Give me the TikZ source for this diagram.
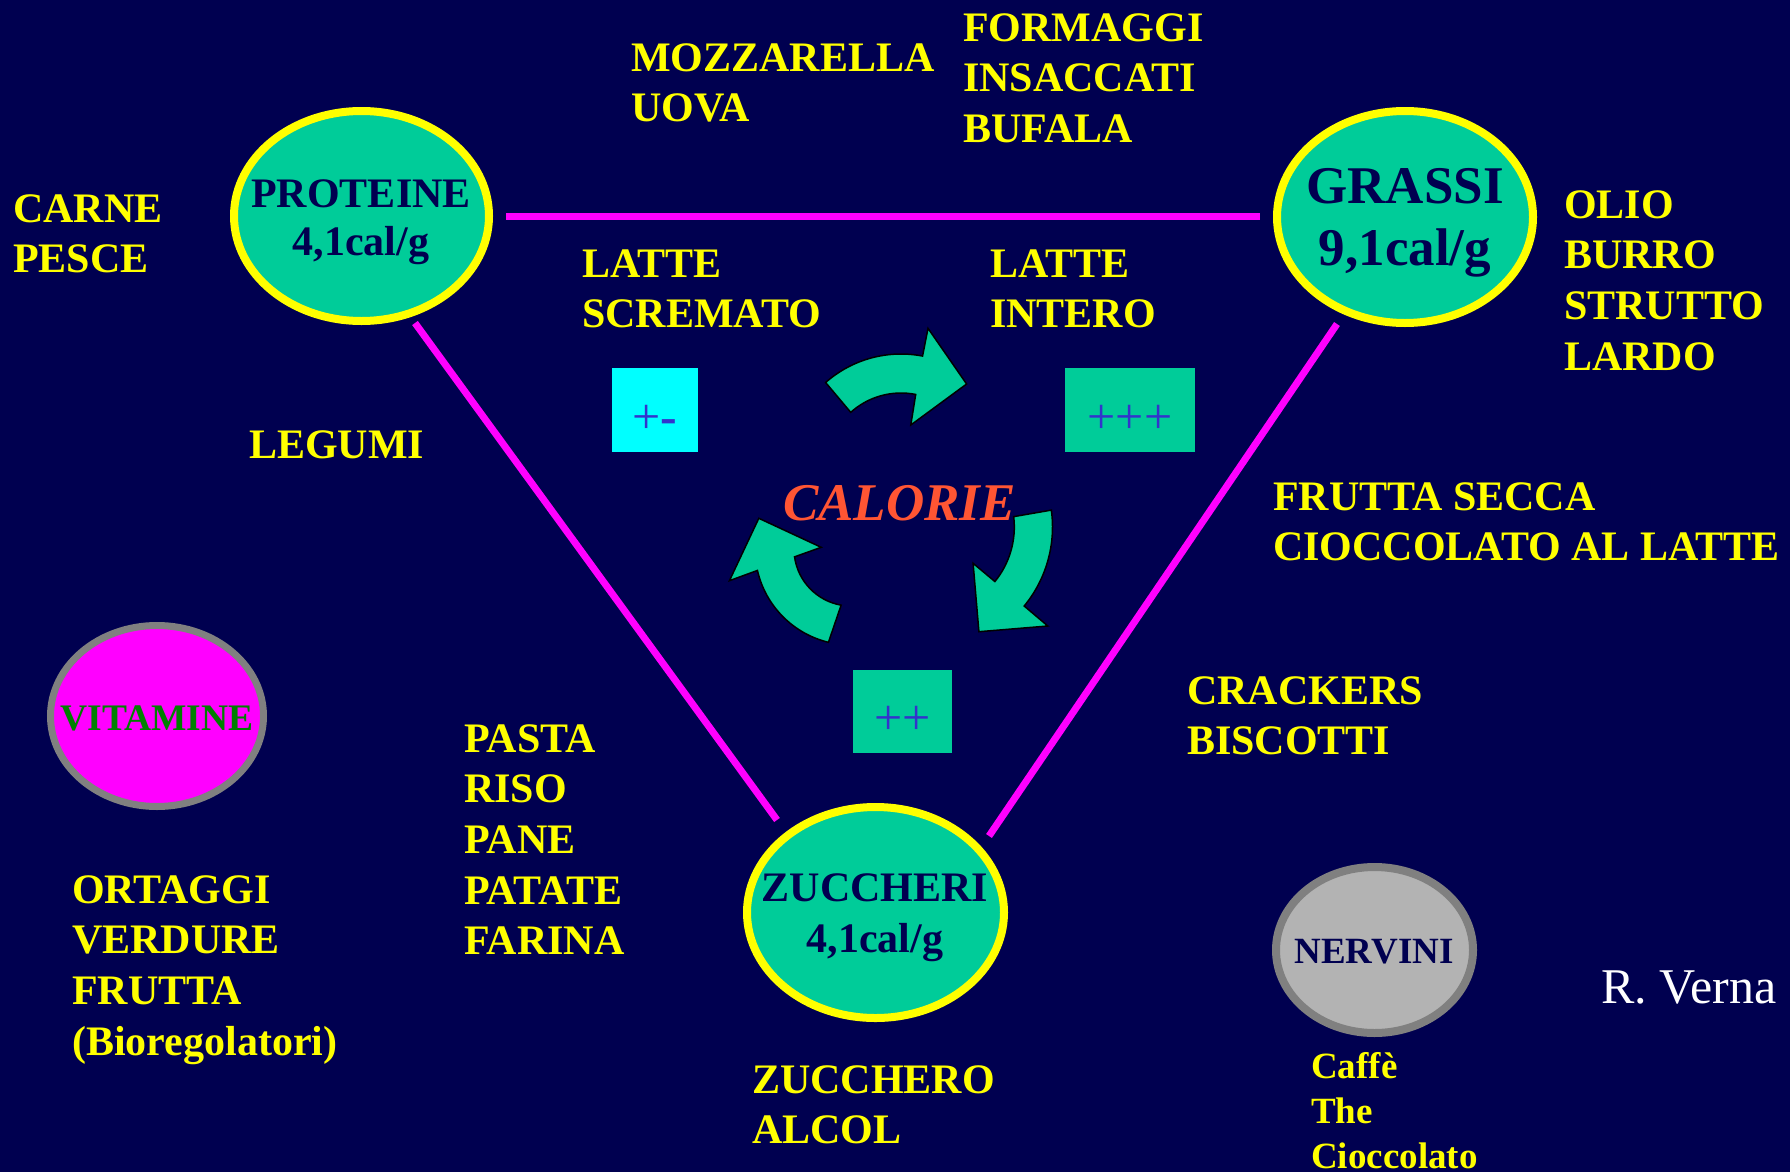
\documentclass[tikz,border=0pt]{standalone}
\usepackage{fontspec}
\setmainfont{Liberation Serif}
\usetikzlibrary{shapes.geometric}
\definecolor{bgc}{HTML}{000050}
\definecolor{tealc}{HTML}{00CC99}
\definecolor{magc}{HTML}{FF00FF}
\definecolor{yelc}{HTML}{FFFF00}
\definecolor{ringgray}{HTML}{808080}
\definecolor{nervfill}{HTML}{B3B3B3}
\definecolor{calc}{HTML}{FF5533}
\definecolor{plusc}{HTML}{3333CC}
\definecolor{vitgreen}{HTML}{008000}
\definecolor{cyanc}{HTML}{00FFFF}
\begin{document}
\begin{tikzpicture}[x=1pt,y=-1pt,
  yell/.style={font=\fontsize{42}{50.7}\selectfont\bfseries, text=yelc, align=left, inner sep=0pt, anchor=base west},
  bubble/.style={ellipse, draw=yelc, line width=8pt, fill=tealc, inner sep=0pt},
  bubtext/.style={font=\fontsize{42}{48}\selectfont\bfseries, text=bgc, align=center, inner sep=0pt, anchor=base},
  link/.style={draw=magc, line width=7pt},
  pbox/.style={inner sep=0pt},
  plustext/.style={inner sep=0pt, font=\fontsize{50}{50}\selectfont, text=plusc, yshift=-9pt},
  cyc/.style={fill=tealc, draw=black, line width=1.5pt, line join=miter}
]
\fill[bgc] (0,0) rectangle (1790,1172);
\useasboundingbox (0,0) rectangle (1790,1172);

% magenta links
\coordinate (l1a) at (506,216); \coordinate (l1b) at (1260,216);
\coordinate (l2a) at (415,323); \coordinate (l2b) at (777,820);
\coordinate (l3a) at (1337,324); \coordinate (l3b) at (989,836);
\draw[link] (l1a) -- (l1b);
\draw[link] (l2a) -- (l2b);
\draw[link] (l3a) -- (l3b);

% ellipses
\node[bubble, minimum width=255pt, minimum height=210pt] (prot) at (361.5,216) {};
\node[bubble, minimum width=256pt, minimum height=212pt] (grassi) at (1405,217) {};
\node[bubble, minimum width=257pt, minimum height=211pt] (zucch) at (875.5,912.5) {};
\node[ellipse, draw=ringgray, line width=7pt, fill=magc, minimum width=213pt, minimum height=181pt] (vit) at (157,716) {};
\node[ellipse, draw=ringgray, line width=8pt, fill=nervfill, minimum width=197pt, minimum height=166pt] (nerv) at (1374.5,950) {};

% (multi-line nodes: base anchor = last line's baseline)
\node[bubtext] (protT) at (361,255) {PROTEINE\\4,1cal/g};
\node[bubtext, font=\fontsize{53}{62}\selectfont\bfseries] (grT) at (1405,265) {GRASSI\\9,1cal/g};
\node[bubtext, font=\fontsize{42}{51}\selectfont\bfseries] (zuT) at (875,952) {ZUCCHERI\\4,1cal/g};
\node[font=\fontsize{37.5}{40}\selectfont\bfseries, text=vitgreen, inner sep=0pt, anchor=base] (vitT) at (157,730) {VITAMINE};
\node[font=\fontsize{37}{40}\selectfont\bfseries, text=bgc, inner sep=0pt, anchor=base] (nervT) at (1374,963) {NERVINI};

% boxes
\node[pbox, fill=cyanc, minimum width=86.5pt, minimum height=84pt,
      label={[plustext]center:+\textbf{-}}] (pm) at (655,410) {};
\node[pbox, fill=tealc, minimum width=130pt, minimum height=84pt,
      label={[plustext]center:+++}] (ppp) at (1130,410) {};
\node[pbox, fill=tealc, minimum width=99pt, minimum height=83pt,
      label={[plustext]center:++}] (pp) at (902.5,711.5) {};

% cycle arrows (circular bands)
\draw[cyc] ([shift={(901,468)}]-131.4:114) arc[start angle=-131.4, end angle=-79.1, radius=114]
  -- (928,328.3) -- (966.6,384) -- (910.8,425)
  -- ([shift={(901,468)}]-78.7:75) arc[start angle=-78.7, end angle=-132.1, radius=75] -- cycle;
\draw[cyc] ([shift={(928,527)}]-7.8:124.5) arc[start angle=-7.8, end angle=39.4, radius=124.5]
  -- (1047.8,626) -- (978.9,631.7) -- (973.1,563.3)
  -- ([shift={(928,527)}]39.2:86.3) arc[start angle=39.2, end angle=-6.9, radius=86.3] -- cycle;
\draw[cyc] ([shift={(851,549)}]103.6:96) arc[start angle=103.6, end angle=167.1, radius=96]
  -- (729.4,580.7) -- (758.8,518.3) -- (821.2,547.3)
  -- ([shift={(851,549)}]172.1:57) arc[start angle=172.1, end angle=100, radius=57] -- cycle;

\node[font=\fontsize{53}{60}\selectfont\bfseries\itshape, text=calc, inner sep=0pt, anchor=base west] (cal) at (783,520) {CALORIE};

% yellow labels (positions = baseline of last line)
\node[yell] (mozz) at (631,121.7) {MOZZARELLA\\UOVA};
\node[yell] (form) at (963,142.4) {FORMAGGI\\INSACCATI\\BUFALA};
\node[yell] (carne) at (13,272.7) {CARNE\\PESCE};
\node[yell] (latte1) at (582,327.7) {LATTE\\SCREMATO};
\node[yell] (latte2) at (990,327.7) {LATTE\\INTERO};
\node[yell] (olio) at (1564,370.1) {OLIO\\BURRO\\STRUTTO\\LARDO};
\node[yell] (legumi) at (249,458) {LEGUMI};
\node[yell] (frutta) at (1273,560.7) {FRUTTA SECCA\\CIOCCOLATO AL LATTE};
\node[yell] (crack) at (1187,754.7) {CRACKERS\\BISCOTTI};
\node[yell] (pasta) at (464,954.8) {PASTA\\RISO\\PANE\\PATATE\\FARINA};
\node[yell] (ort) at (72,1055.1) {ORTAGGI\\VERDURE\\FRUTTA\\(Bioregolatori)};
\node[yell] (zuc) at (752,1143.7) {ZUCCHERO\\ALCOL};
\node[yell, font=\fontsize{37}{45}\selectfont\bfseries] (caffe) at (1311,1168) {Caffè\\The\\Cioccolato};
\node[font=\fontsize{50}{52}\selectfont, text=white, inner sep=0pt, anchor=base west] (verna) at (1601,1003) {R. Verna};
\end{tikzpicture}
\end{document}
